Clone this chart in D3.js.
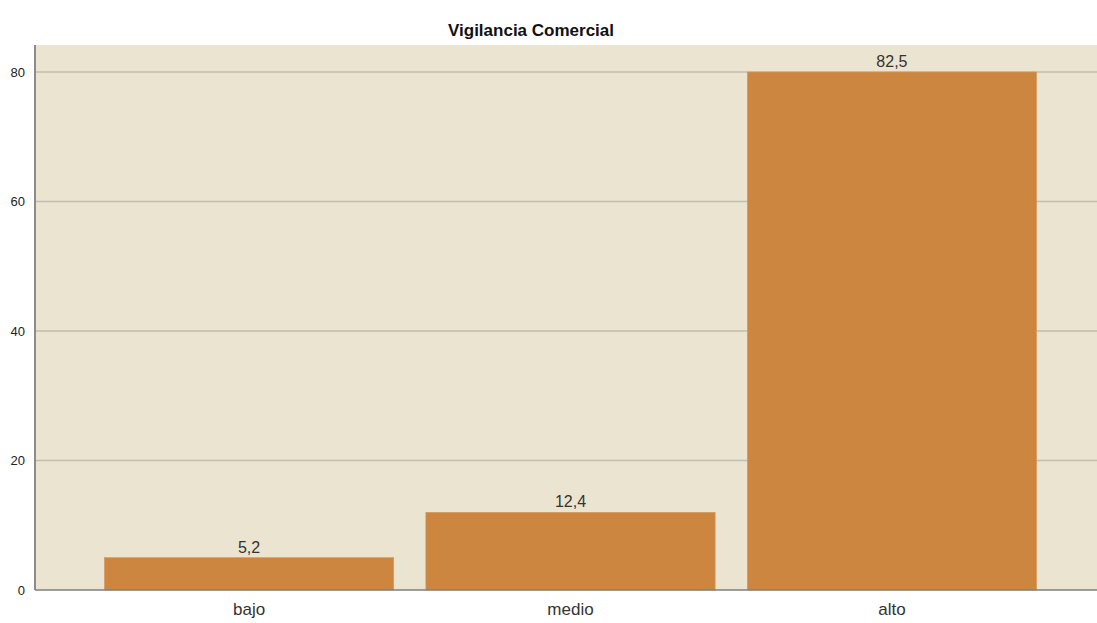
<!DOCTYPE html>
<html lang="es">
<head>
<meta charset="utf-8">
<style>
  html, body { margin:0; padding:0; background:#fff; overflow:hidden; }
  svg { display:block; font-family: "Liberation Sans", Arial, sans-serif; }
</style>
</head>
<body>
<svg width="1097" height="623"></svg>
<script src="https://d3js.org/d3.v7.min.js"></script>
<script>
// datos: recuento por nivel y porcentaje mostrado sobre la barra
var categorias = ["bajo", "medio", "alto"];
var recuentos = [5, 12, 80];
var porcentajes = ["5,2", "12,4", "82,5"];
var ticksY = [0, 20, 40, 60, 80];

var svg = d3.select("svg");
var margIzq = 35, margSup = 45, margDer = 1106, margInf = 590;

var x = d3.scaleBand()
    .domain(categorias)
    .range([margIzq, margDer])
    .paddingInner(0.1)
    .paddingOuter(0.216);

var y = d3.scaleLinear()
    .domain([0, 80])
    .range([margInf, 72]);

// fondo del área de gráfico
svg.append("rect")
    .attr("x", margIzq).attr("y", margSup)
    .attr("width", 1097 - margIzq).attr("height", margInf - margSup)
    .attr("fill", "#ebe4d0");

// líneas de cuadrícula
svg.selectAll(".grid")
    .data(ticksY.filter(function (d) { return d > 0; }))
    .enter().append("line")
    .attr("x1", margIzq).attr("x2", 1097)
    .attr("y1", function (d) { return y(d); })
    .attr("y2", function (d) { return y(d); })
    .attr("stroke", "#c2bdaf")
    .attr("stroke-width", 1.5);

// barras
svg.selectAll(".bar")
    .data(categorias)
    .enter().append("rect")
    .attr("x", function (d) { return x(d); })
    .attr("y", function (d, i) { return y(recuentos[i]); })
    .attr("width", x.bandwidth())
    .attr("height", function (d, i) { return margInf - y(recuentos[i]); })
    .attr("fill", "#cc8640")
    .attr("stroke", "#d49a5e")
    .attr("stroke-width", 0.6);

// etiquetas de porcentaje
svg.selectAll(".lbl")
    .data(categorias)
    .enter().append("text")
    .attr("x", function (d) { return x(d) + x.bandwidth() / 2; })
    .attr("y", function (d, i) { return y(recuentos[i]) - 5; })
    .attr("text-anchor", "middle")
    .attr("font-size", 16)
    .attr("fill", "#333")
    .text(function (d, i) { return porcentajes[i]; });

// ejes
var yAxis = d3.axisLeft(y).tickValues(ticksY).tickSize(0).tickPadding(10);
var gy = svg.append("g").attr("transform", "translate(" + margIzq + ",0)").call(yAxis);
gy.select(".domain").remove();
gy.selectAll("text").attr("font-size", 13).attr("fill", "#222")
    .attr("font-family", "'Liberation Sans', Arial, sans-serif");

svg.append("line")
    .attr("x1", margIzq).attr("x2", margIzq)
    .attr("y1", margSup).attr("y2", margInf)
    .attr("stroke", "#8c8c8c").attr("stroke-width", 2);

svg.append("line")
    .attr("x1", margIzq).attr("x2", 1097)
    .attr("y1", margInf).attr("y2", margInf)
    .attr("stroke", "#7f7f7f").attr("stroke-width", 1.5);

var xAxis = d3.axisBottom(x).tickSize(0).tickPadding(13);
var gx = svg.append("g").attr("transform", "translate(0," + margInf + ")").call(xAxis);
gx.select(".domain").remove();
gx.selectAll("text").attr("font-size", 17).attr("fill", "#333")
    .attr("font-family", "'Liberation Sans', Arial, sans-serif");

// título
svg.append("text")
    .attr("x", 531).attr("y", 36)
    .attr("text-anchor", "middle")
    .attr("font-size", 17)
    .attr("font-weight", "bold")
    .attr("fill", "#111")
    .text("Vigilancia Comercial");
</script>
</body>
</html>
